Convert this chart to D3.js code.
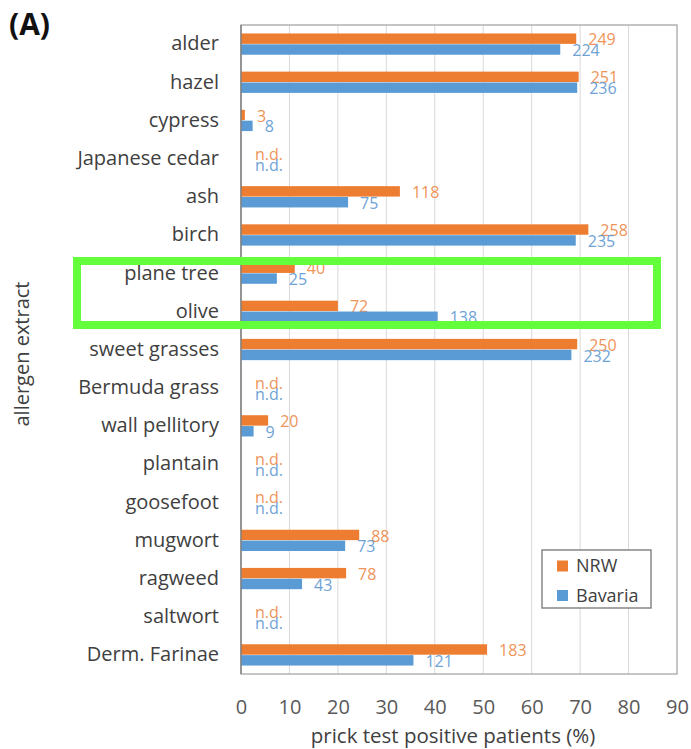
<!DOCTYPE html>
<html>
<head>
<meta charset="utf-8">
<script src="https://cdn.jsdelivr.net/npm/d3@7"></script>
<style>
  html, body { margin: 0; padding: 0; background: #fff; }
  svg { display: block; }
</style>
</head>
<body>
<script>
// Allergen extracts, top to bottom
const allergens = [
  "alder", "hazel", "cypress", "Japanese cedar", "ash", "birch",
  "plane tree", "olive", "sweet grasses", "Bermuda grass", "wall pellitory",
  "plantain", "goosefoot", "mugwort", "ragweed", "saltwort", "Derm. Farinae"
];

// Share of prick-test positive patients (%); null = not determined
const nrwPercent = [69.2, 69.7, 0.8, null, 32.8, 71.7, 11.1, 20.0, 69.4, null, 5.6, null, null, 24.4, 21.7, null, 50.8];
const bavariaPercent = [65.9, 69.4, 2.4, null, 22.1, 69.1, 7.4, 40.6, 68.2, null, 2.6, null, null, 21.5, 12.6, null, 35.6];

// Number of positive patients shown beside each bar
const nrwCount = [249, 251, 3, null, 118, 258, 40, 72, 250, null, 20, null, null, 88, 78, null, 183];
const bavariaCount = [224, 236, 8, null, 75, 235, 25, 138, 232, null, 9, null, null, 73, 43, null, 121];

const seriesNames = ["NRW", "Bavaria"];
const xTicks = [0, 10, 20, 30, 40, 50, 60, 70, 80, 90];

const W = 691, H = 749;
const FONT = "'Open Sans', 'Noto Sans', sans-serif";
const colors = { NRW: "#ED7D31", Bavaria: "#5B9BD5" };
const labelColors = { NRW: "#EE9459", Bavaria: "#6FA3D6" };

const series = [
  { name: "NRW", values: nrwPercent, counts: nrwCount },
  { name: "Bavaria", values: bavariaPercent, counts: bavariaCount }
];

const svg = d3.select("body").append("svg")
  .attr("width", W).attr("height", H)
  .style("font-family", FONT);

const plot = { left: 241, right: 677, top: 25, bottom: 674 };

const x = d3.scaleLinear().domain([0, 90]).range([plot.left, plot.right]);
const y = d3.scaleBand().domain(allergens).range([plot.top, plot.bottom])
  .paddingInner(0.42).paddingOuter(0.21);
const ySub = d3.scaleBand().domain(seriesNames).range([0, y.bandwidth()]).padding(0.04);

// Vertical gridlines
svg.append("g").selectAll("line")
  .data(xTicks.filter(t => t > 0 && t < 90))
  .join("line")
  .attr("x1", d => x(d)).attr("x2", d => x(d))
  .attr("y1", plot.top).attr("y2", plot.bottom)
  .attr("stroke", "#d9d9d9").attr("stroke-width", 1);

// Plot frame
svg.append("rect")
  .attr("x", plot.left).attr("y", plot.top)
  .attr("width", plot.right - plot.left).attr("height", plot.bottom - plot.top)
  .attr("fill", "none").attr("stroke", "#a6a6a6").attr("stroke-width", 1.3);

// Bars
const groups = svg.append("g").selectAll("g")
  .data(series).join("g");

groups.selectAll("rect")
  .data(s => s.values.map((v, i) => ({ s: s.name, v, c: allergens[i] })).filter(d => d.v !== null))
  .join("rect")
  .attr("x", x(0))
  .attr("y", d => y(d.c) + ySub(d.s))
  .attr("width", d => x(d.v) - x(0))
  .attr("height", ySub.bandwidth())
  .attr("fill", d => colors[d.s]);

// Value labels (counts) and n.d. markers
groups.selectAll("text")
  .data(s => s.values.map((v, i) => ({ s: s.name, v, n: s.counts[i], c: allergens[i] })))
  .join("text")
  .attr("x", d => d.v === null ? x(0) + 14 : x(d.v) + 12)
  .attr("y", d => y(d.c) + ySub(d.s) + ySub.bandwidth() / 2 + 1)
  .attr("dy", "0.35em")
  .attr("fill", d => labelColors[d.s])
  .attr("font-size", 16)
  .text(d => d.v === null ? "n.d." : d.n);

// Left axis line
svg.append("line")
  .attr("x1", plot.left).attr("x2", plot.left)
  .attr("y1", plot.top).attr("y2", plot.bottom)
  .attr("stroke", "#808080").attr("stroke-width", 1.4);

// Category labels
const yAxis = d3.axisLeft(y).tickSize(0).tickPadding(22);
svg.append("g")
  .attr("transform", `translate(${plot.left},0)`)
  .call(yAxis)
  .call(g => g.select(".domain").remove())
  .call(g => g.selectAll("text")
    .attr("font-family", FONT).attr("font-size", 20).attr("fill", "#404040"));

// Bottom tick labels
const xAxis = d3.axisBottom(x).tickValues(xTicks).tickSize(0).tickPadding(26);
svg.append("g")
  .attr("transform", `translate(0,${plot.bottom})`)
  .call(xAxis)
  .call(g => g.select(".domain").remove())
  .call(g => g.selectAll("text")
    .attr("font-family", FONT).attr("font-size", 20).attr("fill", "#595959"));

// Axis titles
svg.append("text")
  .attr("x", 453).attr("y", 743)
  .attr("text-anchor", "middle").attr("font-size", 20.5).attr("fill", "#404040")
  .text("prick test positive patients (%)");

svg.append("text")
  .attr("transform", "translate(29,354) rotate(-90)")
  .attr("text-anchor", "middle").attr("font-size", 20).attr("fill", "#404040")
  .text("allergen extract");

// Panel letter
svg.append("text")
  .attr("x", 9).attr("y", 35)
  .attr("font-size", 30).attr("font-weight", "bold").attr("fill", "#111")
  .text("(A)");

// Legend
const legend = svg.append("g").attr("transform", "translate(542,550)");
legend.append("rect")
  .attr("width", 109).attr("height", 58)
  .attr("fill", "#fff").attr("stroke", "#7f7f7f").attr("stroke-width", 1.4);
legend.selectAll("g.item")
  .data(seriesNames).join("g").attr("class", "item")
  .attr("transform", (d, i) => `translate(15,${16 + i * 29.5})`)
  .call(g => g.append("rect")
    .attr("x", 0).attr("y", -5.5).attr("width", 11).attr("height", 11)
    .attr("fill", d => colors[d]))
  .call(g => g.append("text")
    .attr("x", 19).attr("dy", "0.35em")
    .attr("font-size", 18).attr("fill", "#404040")
    .text(d => d));

// Highlight box around plane tree and olive
svg.append("rect")
  .attr("x", 77).attr("y", 261)
  .attr("width", 580).attr("height", 64)
  .attr("fill", "none").attr("stroke", "#62FF3A").attr("stroke-width", 8);
</script>
</body>
</html>
